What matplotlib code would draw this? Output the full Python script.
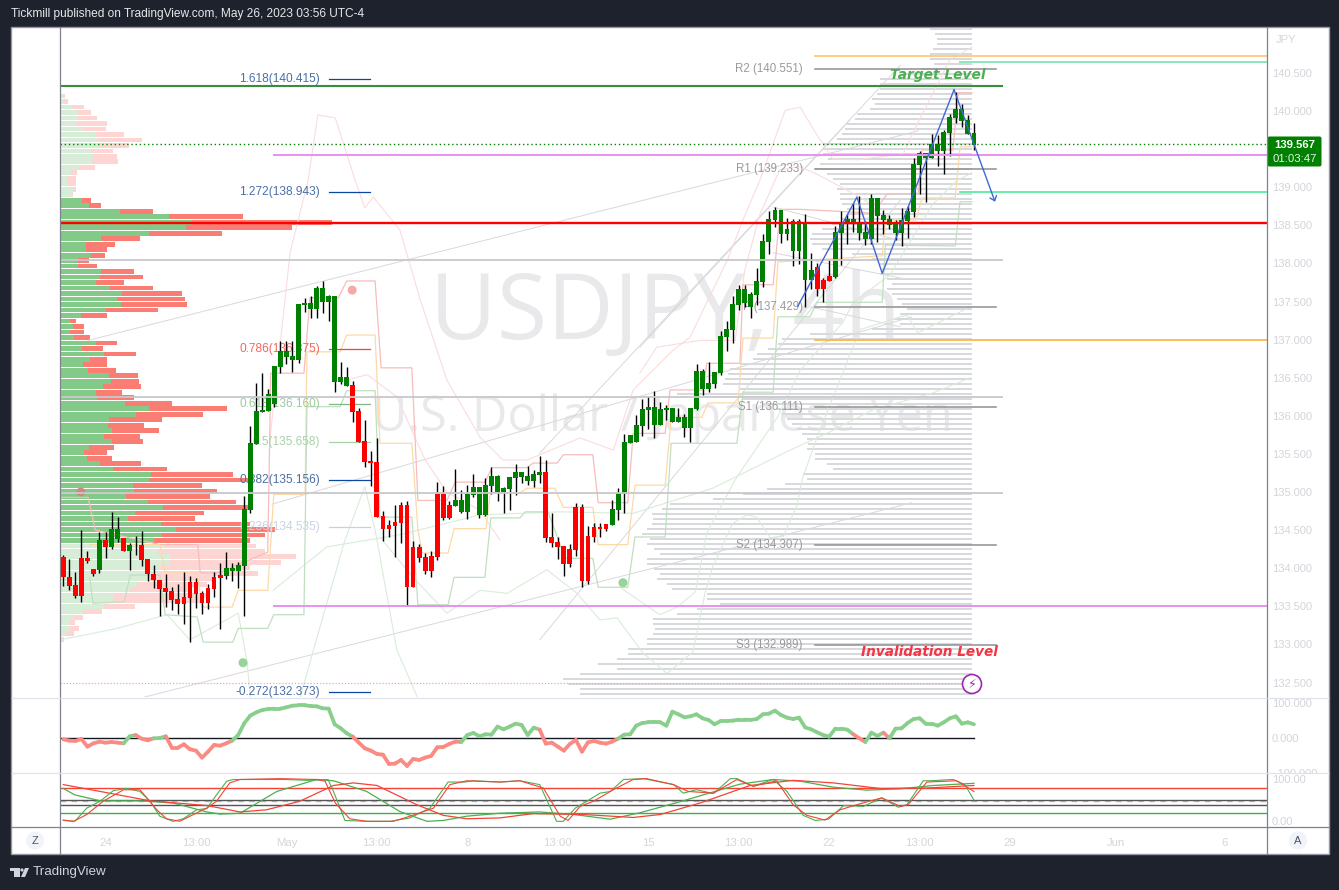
"""USDJPY 4h TradingView snapshot, redrawn with matplotlib."""
import matplotlib
matplotlib.use("Agg")
import matplotlib.pyplot as plt
import numpy as np
from matplotlib.collections import LineCollection
from matplotlib.patches import Circle, FancyBboxPatch, Polygon, Rectangle
from matplotlib.transforms import Bbox

W, H = 1339, 890
UI_FONT = ["Liberation Sans", "DejaVu Sans"]
plt.rcParams["font.family"] = UI_FONT

# high, body top, body bottom, low
candles = [
    (134.17,134.15,133.88,133.77),(134.12,133.88,133.77,133.71),(133.95,133.78,133.64,133.61),(134.50,134.13,133.64,133.56),
    (134.23,134.13,134.10,134.07),(133.99,133.99,133.93,133.90),(134.48,134.37,133.98,133.94),(134.48,134.37,134.28,134.13),
    (134.74,134.52,134.28,134.25),(134.67,134.52,134.38,134.34),(134.40,134.40,134.23,134.23),(134.33,134.31,134.23,133.98),
    (134.42,134.31,134.30,134.17),(134.49,134.31,134.11,134.03),(134.12,134.12,133.92,133.83),(134.04,133.92,133.84,133.74),
    (133.85,133.85,133.73,133.37),(133.92,133.74,133.69,133.49),(133.75,133.70,133.58,133.45),(133.79,133.60,133.53,133.40),
    (133.95,133.62,133.53,133.27),(133.90,133.82,133.61,133.03),(133.87,133.82,133.66,133.48),(133.70,133.68,133.54,133.40),
    (133.79,133.74,133.54,133.46),(133.95,133.88,133.73,133.62),(134.07,133.91,133.87,133.20),(134.21,134.00,133.90,133.86),
    (134.07,134.00,133.96,133.83),(134.08,134.04,133.96,133.74),(134.95,134.78,134.03,133.37),(135.87,135.64,134.76,134.72),
    (136.43,136.06,135.63,135.63),(136.56,136.08,136.05,136.05),(136.35,136.29,136.06,136.06),(136.65,136.65,136.16,136.12),
    (136.98,136.85,136.64,136.56),(136.98,136.85,136.77,136.68),(136.98,136.78,136.73,136.58),(137.47,137.47,136.73,136.69),
    (137.55,137.48,137.45,137.36),(137.57,137.48,137.40,137.28),(137.70,137.68,137.40,137.28),(137.77,137.68,137.49,137.35),
    (137.59,137.57,137.49,137.24),(137.57,137.57,136.44,136.31),(136.71,136.51,136.44,136.42),(136.64,136.51,136.39,136.39),
    (136.46,136.41,136.05,135.92),(136.10,136.06,135.66,135.66),(135.95,135.67,135.39,135.33),(135.54,135.41,135.38,135.08),
    (135.71,135.39,134.67,134.67),(134.75,134.69,134.51,134.36),(134.63,134.57,134.51,134.41),(134.83,134.61,134.55,134.15),
    (134.87,134.83,134.59,134.33),(134.88,134.83,133.75,133.50),(134.36,134.28,133.75,133.75),(134.32,134.28,134.13,134.08),
    (134.20,134.15,133.96,133.92),(134.23,134.16,133.96,133.88),(135.13,134.97,134.15,134.11),(135.08,134.97,134.66,134.63),
    (134.88,134.83,134.66,134.65),(135.30,134.90,134.82,134.82),(135.03,134.90,134.74,134.72),(135.09,134.97,134.74,134.65),
    (135.24,135.07,134.96,134.93),(135.07,135.07,134.70,134.66),(135.18,135.09,134.70,134.69),(135.33,135.21,135.08,134.97),
    (135.22,135.21,135.00,134.88),(135.07,135.05,135.00,134.72),(135.20,135.20,135.04,134.76),(135.37,135.26,135.18,134.96),
    (135.26,135.26,135.20,135.12),(135.34,135.21,135.15,135.09),(135.29,135.24,135.15,135.07),(135.47,135.26,135.22,135.12),
    (135.42,135.26,134.40,134.34),(134.72,134.41,134.33,134.28),(134.41,134.34,134.28,134.12),(134.29,134.29,134.06,133.90),
    (134.32,134.25,134.06,134.02),(134.86,134.80,134.24,134.16),(134.84,134.80,133.83,133.75),(134.55,134.42,133.83,133.79),
    (134.59,134.54,134.41,134.34),(134.59,134.54,134.51,134.41),(134.58,134.58,134.51,134.49),(134.90,134.78,134.57,134.57),
    (135.05,134.99,134.76,134.63),(135.76,135.66,134.97,134.72),(135.75,135.75,135.64,135.64),(136.01,135.88,135.66,135.66),
    (136.22,136.09,135.87,135.74),(136.26,136.12,136.08,135.83),(136.33,136.12,135.88,135.71),(136.18,136.09,135.88,135.88),
    (136.14,136.10,136.08,135.95),(136.10,136.10,135.92,135.92),(136.10,135.98,135.92,135.92),(136.02,135.98,135.84,135.72),
    (136.10,136.10,135.84,135.66),(136.68,136.59,136.09,136.08),(136.61,136.59,136.35,136.27),(136.71,136.43,136.35,136.31),
    (136.58,136.58,136.42,136.37),(137.11,137.05,136.56,136.53),(137.24,137.14,137.03,136.85),(137.57,137.47,137.13,136.96),
    (137.72,137.66,137.45,137.39),(137.72,137.66,137.48,137.43),(137.62,137.60,137.43,137.28),(137.94,137.77,137.59,137.45),
    (138.39,138.29,137.76,137.69),(138.69,138.58,138.28,138.12),(138.74,138.70,138.57,138.48),(138.70,138.70,138.39,138.27),
    (138.60,138.45,138.39,138.31),(138.58,138.56,138.16,137.97),(138.58,138.56,138.16,137.99),(138.65,138.54,137.78,137.43),
    (138.14,137.91,137.78,137.66),(138.01,137.95,137.66,137.57),(137.81,137.78,137.66,137.49),(138.05,137.84,137.77,137.77),
    (138.49,138.41,137.82,137.81),(138.69,138.54,138.40,137.98),(138.65,138.58,138.53,138.26),(138.79,138.58,138.52,138.41),
    (138.89,138.53,138.40,138.31),(138.56,138.41,138.32,138.24),(138.91,138.86,138.32,138.26),(138.86,138.86,138.62,138.28),
    (138.70,138.63,138.57,138.39),(138.63,138.58,138.50,138.45),(138.57,138.52,138.40,138.31),(138.73,138.57,138.40,138.23),
    (138.75,138.69,138.56,138.33),(139.38,139.31,138.67,138.61),(139.47,139.45,139.29,138.91),(139.45,139.45,139.38,138.81),
    (139.70,139.57,139.38,139.38),(139.69,139.57,139.47,139.28),(139.75,139.72,139.47,139.17),(139.96,139.92,139.71,139.41),
    (140.25,140.03,139.91,139.84),(140.09,140.03,139.87,139.79),(139.95,139.88,139.70,139.70),(139.84,139.71,139.55,139.49),
]
bar_colours = "r"*6 + "g" + "r" + "gg" + "r" + "gg" + "r"*14 + "ggg" + "g"*18 + "r"*17 + "g"*15 + "r"*11 + "g"*34 + "rrr" + "g"*24

# left volume profile: buy volume, total volume, top row first
left_profile = [
    (3,5),(4,8),(12,24),(17,31),(18,37),(16,47),(22,46),(35,64),(38,82),(40,69),(31,53),(33,57),(32,58),(19,35),(11,17),(7,16),(8,16),(14,16),(12,13),
    (22,31),(29,41),(60,93),(109,183),(132,272),(126,232),(89,162),(41,80),(26,55),(26,47),(31,45),(18,29),(18,37),(41,74),(40,83),(36,64),(50,93),
    (62,122),(57,125),(61,127),(46,98),(21,47),(10,16),(13,24),(10,24),(14,30),(36,57),(22,43),(44,76),(30,47),(23,47),(28,56),(49,78),(51,79),(43,81),
    (36,62),(37,74),(65,112),(89,167),(76,143),(49,102),(48,84),(52,99),(44,80),(52,83),(29,54),(24,47),(27,52),(40,81),(53,107),(91,173),
    (89,190),(73,142),(74,157),(66,150),(88,176),(103,190),(75,144),(68,135),(101,190),(116,215),(102,205),(94,190),
    (105,196),(97,205),(110,236),(109,221),(100,190),(97,198),(90,153),(77,147),(70,130),(54,150),(53,140),(44,75),(23,42),(14,23),(10,15),(10,19),(6,14),(0,4),
]
left_top_price = 140.197
left_step = 0.072

# right volume profile, row sizes from the top of the pane down
right_profile = [
    42,37,35,35,39,42,42,38,50,70,92,92,92,95,100,97,102,115,117,125,127,130,135,149,149,149,144,152,157,145,139,132,135,132,132,130,125,125,130,140,
    150,160,162,160,150,120,100,92,90,92,85,80,85,80,75,70,65,72,78,72,100,162,190,194,204,215,219,232,242,244,247,249,232,295,230,210,195,190,185,180,
    175,170,165,164,165,157,157,145,139,169,165,187,205,229,259,302,310,320,319,320,325,330,322,325,318,312,325,325,318,312,315,305,300,265,265,252,
    275,295,319,319,317,319,325,325,344,344,355,374,355,392,409,404,392,392,
]
right_top_price = 141.076
right_step = 0.0656

# stop lines (bar position, price)
red_step_x = [-0.5,4.1,5.3,16,22.3,22.7,25.7,33.9,34.4,39.9,40.9,45.6,47,51.7,52.7,57.8,58.8,63.6,65,69.9,71.1,76.9,77.9,81.9,82.9,87.8,88.7,93.6,94.5,99.8,100.6,106.1,106.7,112.2,112.7,117.7,118.9,122.2,134.3,136.6,141.8,142.4,147.5,148.4,150.7]
red_step_p = [134.93,134.93,134.50,134.31,134.31,133.94,133.94,134.21,136.56,136.56,137.55,137.55,137.77,137.77,136.63,136.63,134.89,134.89,135.13,135.13,135.32,135.32,135.38,135.38,135.49,135.49,134.86,134.86,135.77,135.77,136.34,136.34,136.69,136.69,137.72,137.72,138.71,138.71,138.66,138.91,138.92,139.49,139.49,140.24,140.24]
orange_step_x = [4.4,16,16.9,22.2,23,28,29,33.9,34.9,40.1,40.4,45.9,47,51.7,52.5,57.8,58.8,59.5,63.8,64.8,70.1,70.8,75.7,76.9,81.5,82.9,87.8,88.7,93.6,94.8,99.8,100.8,105.9,106.9,111.9,112.7,117.7,118.5,135.8,136.3,141.4,142.4,147.9,148.7,150.7]
orange_step_p = [134.31,134.31,133.94,133.94,133.49,133.49,133.71,133.71,134.97,134.97,136.84,136.84,137.06,137.06,135.64,135.64,134.50,134.20,134.20,134.52,134.52,134.99,134.99,135.05,135.05,134.80,134.80,134.31,134.31,135.09,135.09,135.98,135.98,136.17,136.17,137.02,137.02,138.02,138.10,138.57,138.57,138.86,138.86,139.53,139.53]
green_step_x = [4.4,4.9,10.1,11.1,16,16.9,22.2,23.2,28.1,29,33.9,34.9,39.9,40.4,45.9,47,51.7,52.5,57.8,58.8,63.8,64.8,69.9,70.9,75.7,76.6,80.4,83.2,87.8,88.7,93.6,94.8,99.8,100.8,111.7,112.7,117.7,118.5,123.8,125,135.8,136.3,147.9,148.7,150.7]
green_step_p = [133.88,133.54,133.56,133.91,133.91,133.39,133.36,133.03,133.03,133.21,133.21,133.39,133.39,136.12,136.12,136.33,136.33,134.67,134.67,133.52,133.52,133.88,133.88,134.66,134.66,134.74,134.74,134.13,134.13,133.75,133.75,134.41,134.41,135.64,135.64,136.31,136.31,137.30,137.30,137.49,137.49,138.24,138.23,138.81,138.81]

# faint band curves
band_red = [
    ([34.3,37.6,40.6,42.2,45.1,48.4,50,51.4,55.8,59.2,63.6,69.1,72.9,76.9,85.7,91.2,94.5,101.1,103.9,110.1,112.7,115.5,119.7,122.2,124.7,127.6,131.6,139.3,141.6,147,150.7],
     [135.72,138.14,139.09,139.95,139.91,139.09,138.73,138.87,138.44,137.52,136.47,135.72,135.42,135.42,135.71,135.55,136.34,136.86,137.03,138.04,138.57,139.09,140.01,140.05,139.72,139.37,139.36,139.44,139.83,140.67,140.84]),
    ([47,50.4,55.3,60,63.6,69.1,72.4], [136.47,136.54,136.25,135.42,135.0,134.76,134.37]),
    ([95.6,98.4,105.6,111.4,113,115.5,118.8,122.2,125,130,134.9], [136.56,136.90,136.99,136.99,137.91,138.64,139.23,139.27,139.17,138.96,138.74]),
]
band_green = [
    ([-0.5,8.9,17.2,21,29,30.5,31], [133.06,133.21,133.39,133.06,133.41,132.76,132.31]),
    ([39.3,42.1,46.7,50,51.7,55.3,58.7], [132.31,133.10,134.37,135.07,134.50,132.93,132.31]),
    ([34.8,43.7,55.8,69.1,82.4,94.5,107.7,120.5,126.6,134.3,144.2,150.4], [133.71,134.28,134.44,134.70,134.74,134.72,135.05,135.55,135.77,136.08,136.30,136.50]),
    ([52.5,58,63.6,69.1,73.6,80.2,85.2,89,91.8,96.1,100.1,104.4,106.4,107.7,111,113.4,115,117.2,119.4,121.7,122.5,125,132.1,138.8,139.9,141.7,150.4],
     [134.41,133.88,133.41,133.71,133.67,133.98,133.67,133.32,133.35,132.89,132.62,132.90,133.67,134.02,134.59,134.70,134.67,134.40,134.42,134.83,135.16,135.72,137.13,137.30,137.32,137.09,137.43]),
    ([92.3,98.9,101.8,104.8,106.7,111.4,118.4,122.2,129.3,131,137.1,144.2,148.2,150.7], [133.75,133.39,133.49,133.69,134.46,135.16,135.98,136.60,137.23,137.49,137.85,138.78,139.09,139.19]),
]

# trend lines: x0, p0, x1, p1
trend_lines = [
    (4.1,136.99,141.8,139.74),(34.6,134.84,140.7,137.30),(13.5,132.31,140.7,134.86),
    (79,135.51,138.8,140.60),(79,133.06,138.8,138.83),(95.6,136.90,130.4,139.88),
    (117.7,138.74,138.8,138.30),(117.7,138.14,138.8,137.81),(123.8,137.43,138.8,137.17),
]
zigzag_x = [121.8,131.6,135.8,147.7,154.5]
zigzag_p = [137.44,138.87,137.87,140.28,138.81]

fib_levels = [
    ("1.618(140.415)",140.415,"#4a6fa5","#0d47a1"),("1.272(138.943)",138.943,"#4a6fa5","#0d47a1"),
    ("0.786(136.875)",136.875,"#f4685e","#f44336"),("0.618(136.160)",136.160,"#9cc99f","#81b787"),
    ("0.5(135.658)",135.658,"#a8d2aa","#a5d0a8"),("0.382(135.156)",135.156,"#4a6fa5","#0d47a1"),
    ("0.236(134.535)",134.535,"#c8d2e6","#c5cfe6"),("-0.272(132.373)",132.373,"#4a6fa5","#0d47a1"),
]
pivots = [("R2 (140.551)",140.551),("R1 (139.233)",139.233),("P (137.429)",137.429),
          ("S1 (136.111)",136.111),("S2 (134.307)",134.307),("S3 (132.989)",132.989)]
markers_x = [47.9,2.9,29.8,92.8]
markers_p = [137.65,135.0,132.76,133.81]
markers_c = ["#f5a9a9","#d08a7c","#96d49b","#96d49b"]

# momentum pane
momentum = [
    -3.8,-7.5,-8.5,-2.8,-24.7,-15.2,-10.4,-13.3,-11.4,-13.3,-15.2,4.8,8.6,-2,-6.6,-0.9,0,4.8,-27.5,-27.5,-18,-32.3,-36.1,-56.1,-39,-19.9,-21.8,-15.2,-7.5,8.6,
    42,63.9,73.4,80,82.9,83.9,83.9,87.7,92.4,93.4,93.4,91.5,90.5,84.8,83.9,39.1,27.7,13.4,3.9,-13.3,-29.4,-36.1,-45.6,-47.5,-74.2,-73.2,-62.8,-79.9,-59.9,-62.8,
    -56.1,-51.3,-26.6,-25.6,-17,-10.4,-11.4,8.6,14.4,4.8,10.6,9.6,32.5,24.8,32.5,41,37.2,8.6,29.6,23.9,-16.1,-13.3,-24.7,-36.1,-17,-5.6,-39,-12.4,-8.5,-13.3,
    -16.1,-10.4,-1.9,9.6,10.6,35.3,42.9,44.8,44.8,44.8,35.3,75.3,67.7,59.1,62,67.7,56.3,51.5,39.1,48.6,48.6,49.6,52.4,52.4,51.5,54.3,67.7,69.6,78.1,65.8,58.2,54.3,
    58.2,30.5,24.8,16.2,8.6,3.9,26.7,26.7,23.9,10.6,-0.9,-11.4,15.3,5.8,15.3,-0.9,26.7,27.7,42.9,54.3,56.3,41,41,35.3,44.8,56.3,62,41,44.8,39.1,
]

# stochastic pane
fast_green_x = [0,1.9,3.9,6.1,8.3,10.5,12.7,14.4,16,18.2,19.9,22.1,23.8,25.4,27.1,28.2,37,40.4,43.9,44.8,46.7,50.3,54.2,57.5,60.8,63.8,66.6,68,72.4,75.7,79,81.8,82.9,84.9,86.8,89,90.7,92.9,96.2,101.2,102.8,105,107.8,110.6,111.7,114.4,117.7,120,122.7,124.7,126.9,129.4,132.7,135.7,138.5,139.9,142.6,143.7,147.6,149.5,151]
fast_green_v = [2,0,31,47,72,77,70,47,12,0,6,27,30,62,94,98,98,96,98,70,2,0,0,8,31,92,92,95,92,95,86,0,0,31,47,66,70,98,100,86,66,74,65,100,100,82,98,70,14,2,5,37,35,55,33,39,95,95,98,86,50]
fast_red_x = [0,1.7,3.9,6.6,10,12.7,15.5,17.1,19.3,21,23.8,25.4,27.6,29.3,35.9,42,43.4,45.1,47.5,50.3,54.7,57.5,61.4,64.1,66.9,72.4,75.7,79.6,82.4,83.7,85.7,87.9,91.2,94.5,96.7,101.2,103.6,107.8,111.7,114.4,118.3,121,123.3,126.3,128.8,131.6,135.7,138.8,140.1,143.2,148.1,151]
fast_red_v = [3,0,16,47,74,74,27,6,0,12,31,47,90,98,100,98,94,43,6,0,0,12,31,86,95,92,95,78,12,2,35,47,74,98,100,86,70,66,98,82,95,39,14,3,27,39,55,35,39,92,95,70]
slow_green_x = [0,1.9,6.1,12.7,18.2,23.8,26,29.3,35.4,42,44.8,50.3,55.8,60.3,63,66.9,72.4,79,84.6,90.7,95.6,102.8,107.8,112.2,117.7,122.2,127.7,133.2,138.7,144.3,151]
slow_green_v = [77,62,48,48,43,22,17,19,70,98,95,70,23,0,2,12,19,22,16,5,20,48,69,87,98,94,80,73,76,84,89]
slow_red_x = [0,6.1,14.4,23.8,29.3,33.7,39.2,44.8,48.1,52,58.6,63,66.9,72.4,77.9,86.2,94.5,99,105.6,113.9,121,127.7,135.4,143.2,151]
slow_red_v = [86,70,48,37,22,27,47,84,90,84,39,14,6,8,18,16,9,16,43,84,96,90,77,78,84]

price_ticks = [132.5,133,133.5,134,134.5,135,135.5,136,136.5,137,137.5,138,138.5,139,139.5,140,140.5]
time_ticks = [7,22,37,52,67,82,97,112,127,142,157,174.6,192.5]
time_labels = ["24","13:00","May","13:00","8","13:00","15","13:00","22","13:00","29","Jun","6"]

DARK = "#1e222d"
LABEL = "#d3d5da"
DIVIDER = "#e0e3eb"
BORDER = "#7f828c"
XLIM = (-0.55, 199.6)


def pane(x0, y0, x1, y1, zorder=1):
    ax = fig.add_axes([x0 / W, 1 - y1 / H, (x1 - x0) / W, (y1 - y0) / H], zorder=zorder)
    ax.set_xlim(*XLIM)
    for s in ax.spines.values():
        s.set_visible(False)
    ax.tick_params(length=0)
    return ax


fig = plt.figure(figsize=(W / 100, H / 100), dpi=100, facecolor=DARK)

# white chart card behind everything
bg = fig.add_axes([0, 0, 1, 1], zorder=-5)
bg.set_xlim(0, W)
bg.set_ylim(H, 0)
bg.axis("off")
bg.add_patch(Rectangle((11, 27), 1318, 827, fc="white", ec="#9598a1", lw=1))

# ---- main pane
ax = pane(60, 27, 1267, 697, zorder=2)
ax.set_ylim(132.31, 141.103)
ax.patch.set_visible(False)

ax_vl = ax.twiny()
ax_vl.set_zorder(1)
ax_vl.set_xlim(0, 1207)
ax_vl.axis("off")
ax_vr = ax.twiny()
ax_vr.set_zorder(1)
ax_vr.set_xlim(912, -295)
ax_vr.axis("off")

# watermark
ax_vr.text(665 / W, 1 - 315 / H, "USDJPY, 4h", transform=fig.transFigure, fontsize=66, family="Open Sans",
           color="#e9e9ec", ha="center", va="center", zorder=0)
ax_vr.text(662 / W, 1 - 418 / H, "U.S. Dollar / Japanese Yen", transform=fig.transFigure, fontsize=35, family="Open Sans",
           color="#e9e9ec", ha="center", va="center", zorder=0)

left_buy = np.array([r[0] for r in left_profile], float)
left_tot = np.array([r[1] for r in left_profile], float)
left_lv = left_top_price - np.arange(len(left_profile)) * left_step
solid = np.zeros(len(left_profile), bool)
solid[19:82] = True
ax_vl.barh(left_lv, left_tot, height=0.0625, color=np.where(solid, "#f97d72", "#fdd6d3"), zorder=1)
ax_vl.barh(left_lv, left_buy, height=0.0625, color=np.where(solid, "#83c987", "#d7edd8"), zorder=1.1)

right_lv = right_top_price - np.arange(len(right_profile)) * right_step
ax_vr.barh(right_lv, right_profile, height=0.02, color="#d8d9dc", zorder=1)

for x0, p0, x1, p1 in trend_lines:
    ax.plot([x0, x1], [p0, p1], color="#d9d9dc", lw=0.7, zorder=2)
for xs, ps in band_red:
    ax.plot(xs, ps, color="#fbdcdc", lw=0.8, zorder=2)
for xs, ps in band_green:
    ax.plot(xs, ps, color="#d9ecd9", lw=0.8, zorder=2)
ax.plot(red_step_x, red_step_p, color="#f7bcbc", lw=0.9, zorder=2.2)
ax.plot(orange_step_x, orange_step_p, color="#fdd9a8", lw=0.9, zorder=2.2)
ax.plot(green_step_x, green_step_p, color="#bfe0c0", lw=0.9, zorder=2.2)

# fib and pivot labels
for label, price, tc, lc in fib_levels:
    ax.text(42.6, price, label, color=tc, fontsize=8.6, ha="right", va="center", zorder=4)
    ax.plot([44.1, 50.9], [price, price], color=lc, lw=0.9, zorder=4)
for label, price in pivots:
    ax.text(122.6, price, label, color="#9a9a9e", fontsize=8.3, ha="right", va="center", zorder=4)
    ax.plot([124.7, 154.7], [price, price], color="#8f8f93", lw=1.1, zorder=4)

ax.scatter(markers_x, markers_p, s=42, c=markers_c, linewidths=0, zorder=3)

# candles
idx = np.arange(len(candles))
arr = np.array(candles)
body_col = ["#008000" if c == "g" else "#ff0000" for c in bar_colours]
ax.vlines(idx, arr[:, 3], arr[:, 0], color="black", lw=1, zorder=5)
ax.bar(idx, arr[:, 1] - arr[:, 2], bottom=arr[:, 2], width=0.8, color=body_col, lw=0, zorder=5.1)

# horizontal drawings
for price in (138.04, 136.25, 134.99):
    ax.plot([-0.5, 155.7], [price, price], color="#c8c8cd", lw=1.3, zorder=6)
ax.plot([-0.5, 155.7], [140.33, 140.33], color="#388e3c", lw=1.5, zorder=6)
ax.axhline(138.53, color="#ff0000", lw=1.7, zorder=6.5)
for price in (139.42, 133.51):
    ax.plot([34.9, XLIM[1]], [price, price], color="#e791ef", lw=1.4, zorder=6)
ax.plot([124.7, XLIM[1]], [140.72, 140.72], color="#ffcc80", lw=1.4, zorder=6)
ax.plot([124.7, XLIM[1]], [136.99, 136.99], color="#ffb74d", lw=1.3, zorder=6)
ax.plot([148.7, XLIM[1]], [140.65, 140.65], color="#80e6b5", lw=1.3, zorder=6)
ax.plot([148.7, XLIM[1]], [138.94, 138.94], color="#3de88f", lw=1.1, zorder=6)
ax.plot([-0.5, 150.7], [132.49, 132.49], color="#f6a5a5", lw=0.9, ls=(0, (1, 1.5)), zorder=6)
ax.axhline(139.567, color="#008000", lw=1, ls=(0, (1, 2)), zorder=6)

ax.plot(zigzag_x[:-1], zigzag_p[:-1], color="#3f68d6", lw=1, zorder=7)
ax.annotate("", xy=(zigzag_x[-1], zigzag_p[-1]), xytext=(zigzag_x[-2], zigzag_p[-2]), zorder=7,
            arrowprops=dict(arrowstyle="->,head_length=0.3,head_width=0.25", color="#3f68d6", lw=1, shrinkA=0, shrinkB=0))

ax.text(145.0, 140.47, "Target Level", color="#4caf50", fontsize=9.9, family="DejaVu Sans", weight="bold", style="italic",
        ha="center", va="center", zorder=8)
ax.text(143.6, 132.90, "Invalidation Level", color="#f23645", fontsize=9.8, family="DejaVu Sans", weight="bold", style="italic",
        ha="center", va="center", zorder=8)

ax.set_xticks([])
ax.yaxis.tick_right()
ax.set_yticks(price_ticks)
ax.set_yticklabels([f"{p:.3f}" for p in price_ticks])
ax.tick_params(axis="y", labelcolor=LABEL, labelsize=8, pad=3.5)

# ---- momentum pane
ax2 = pane(60, 698, 1267, 773, zorder=1.5)
ax2.set_ylim(-100, 114.3)
ax2.patch.set_visible(False)
ax2.plot([-0.5, 151], [0, 0], color="#131722", lw=1, zorder=2)
mom = np.array(momentum, float)
pts = np.column_stack([np.arange(len(mom)), mom])
segs = np.stack([pts[:-1], pts[1:]], axis=1)
seg_col = ["#88cf8c" if v >= 0 else "#fb8a82" for v in mom[1:]]
ax2.add_collection(LineCollection(segs, colors=seg_col, linewidths=2.7, capstyle="round", zorder=3))
ax2.set_xticks([])
ax2.yaxis.tick_right()
ax2.set_yticks([100, 0, -100])
ax2.set_yticklabels(["100.000", "0.000", "\u2212100.000"])
ax2.tick_params(axis="y", labelcolor=LABEL, labelsize=8, pad=3.5)
clip2 = Bbox.from_extents(1268, H - 773, 1329, H - 698)
for t in ax2.get_yticklabels():
    t.set_clip_box(clip2)
    t.set_clip_on(True)

# ---- stochastic pane
ax3 = pane(60, 773, 1267, 827, zorder=1.6)
ax3.set_ylim(-13.3, 113.2)
ax3.patch.set_visible(False)
ax3.axhline(77, color="#f44336", lw=1, zorder=2)
ax3.axhline(47.6, color="#bdbdbd", lw=1, ls=(0, (4, 4)), zorder=2)
ax3.axhline(50, color="#555555", lw=1, zorder=2)
ax3.axhline(38, color="#555555", lw=1, zorder=2)
ax3.axhline(19.5, color="#3fae49", lw=1, zorder=2)
ax3.plot(slow_green_x, slow_green_v, color="#4caf50", lw=0.9, zorder=3)
ax3.plot(slow_red_x, slow_red_v, color="#f44336", lw=0.9, zorder=3.1)
ax3.plot(fast_green_x, fast_green_v, color="#4caf50", lw=0.8, zorder=3.2)
ax3.plot(fast_red_x, fast_red_v, color="#f44336", lw=0.8, zorder=3.3)
ax3.yaxis.tick_right()
ax3.set_yticks([100, 0])
ax3.set_yticklabels(["100.00", "0.00"])
ax3.tick_params(axis="y", labelcolor=LABEL, labelsize=8, pad=3.5)
clip3 = Bbox.from_extents(1268, H - 827, 1329, H - 773)
for t in ax3.get_yticklabels():
    t.set_clip_box(clip3)
    t.set_clip_on(True)
ax3.set_xticks(time_ticks)
ax3.set_xticklabels(time_labels)
ax3.tick_params(axis="x", labelcolor=LABEL, labelsize=8.2, pad=8)

# ---- window chrome
ov = fig.add_axes([0, 0, 1, 1], zorder=10)
ov.set_xlim(0, W)
ov.set_ylim(H, 0)
ov.axis("off")
for xs, ys, c in [
    ((60, 60), (27, 854), BORDER), ((1267, 1267), (27, 854), BORDER), ((11, 1329), (827, 827), BORDER),
    ((60, 1267), (697.5, 697.5), DIVIDER), ((11, 60), (697.5, 697.5), DIVIDER), ((1267, 1329), (697.5, 697.5), DIVIDER),
    ((11, 1329), (773, 773), DIVIDER),
]:
    ov.plot(xs, ys, color=c, lw=0.9, solid_capstyle="butt")

ov.text(11, 14, "Tickmill published on TradingView.com, May 26, 2023 03:56 UTC-4", color="#e6e7ea", fontsize=8.6, va="center", ha="left")
ov.text(1286, 40, "JPY", color=LABEL, fontsize=8, ha="center", va="center")

ov.add_patch(FancyBboxPatch((1269, 138), 51, 27, boxstyle="round,pad=1.5,rounding_size=2", fc="#008000", ec="none"))
ov.text(1295, 144.5, "139.567", color="white", fontsize=8.2, weight="bold", ha="center", va="center")
ov.text(1295, 158.5, "01:03:47", color="#e6f2e6", fontsize=8.2, ha="center", va="center")

ov.add_patch(Circle((35, 840.5), 9, fc="#f0f3fa", ec="none"))
ov.text(35, 840.5, "Z", color="#50535e", fontsize=8, ha="center", va="center")
ov.add_patch(Circle((1298, 840.5), 9, fc="#f0f3fa", ec="none"))
ov.text(1298, 840.5, "A", color="#50535e", fontsize=8, ha="center", va="center")

# lightning badge near the last bar
ov.add_patch(Circle((972, 684), 9.5, fc="white", ec="#9c27b0", lw=1.2))
ov.text(972, 684, "\u26a1", color="#9c27b0", fontsize=9, family="DejaVu Sans", ha="center", va="center")

# TradingView logo + wordmark
ov.add_patch(Rectangle((10, 868), 10, 3, fc="#d1d4dc", ec="none"))
ov.add_patch(Rectangle((14, 868), 6, 9, fc="#d1d4dc", ec="none"))
ov.add_patch(Circle((22, 870), 1.6, fc="#d1d4dc", ec="none"))
ov.add_patch(Polygon([(25, 868), (29, 868), (25, 877), (21, 877)], fc="#d1d4dc", ec="none"))
ov.text(33, 872, "TradingView", color="#d1d4dc", fontsize=9.6, ha="left", va="center")

fig.savefig("out.png", dpi=100, facecolor=fig.get_facecolor())
